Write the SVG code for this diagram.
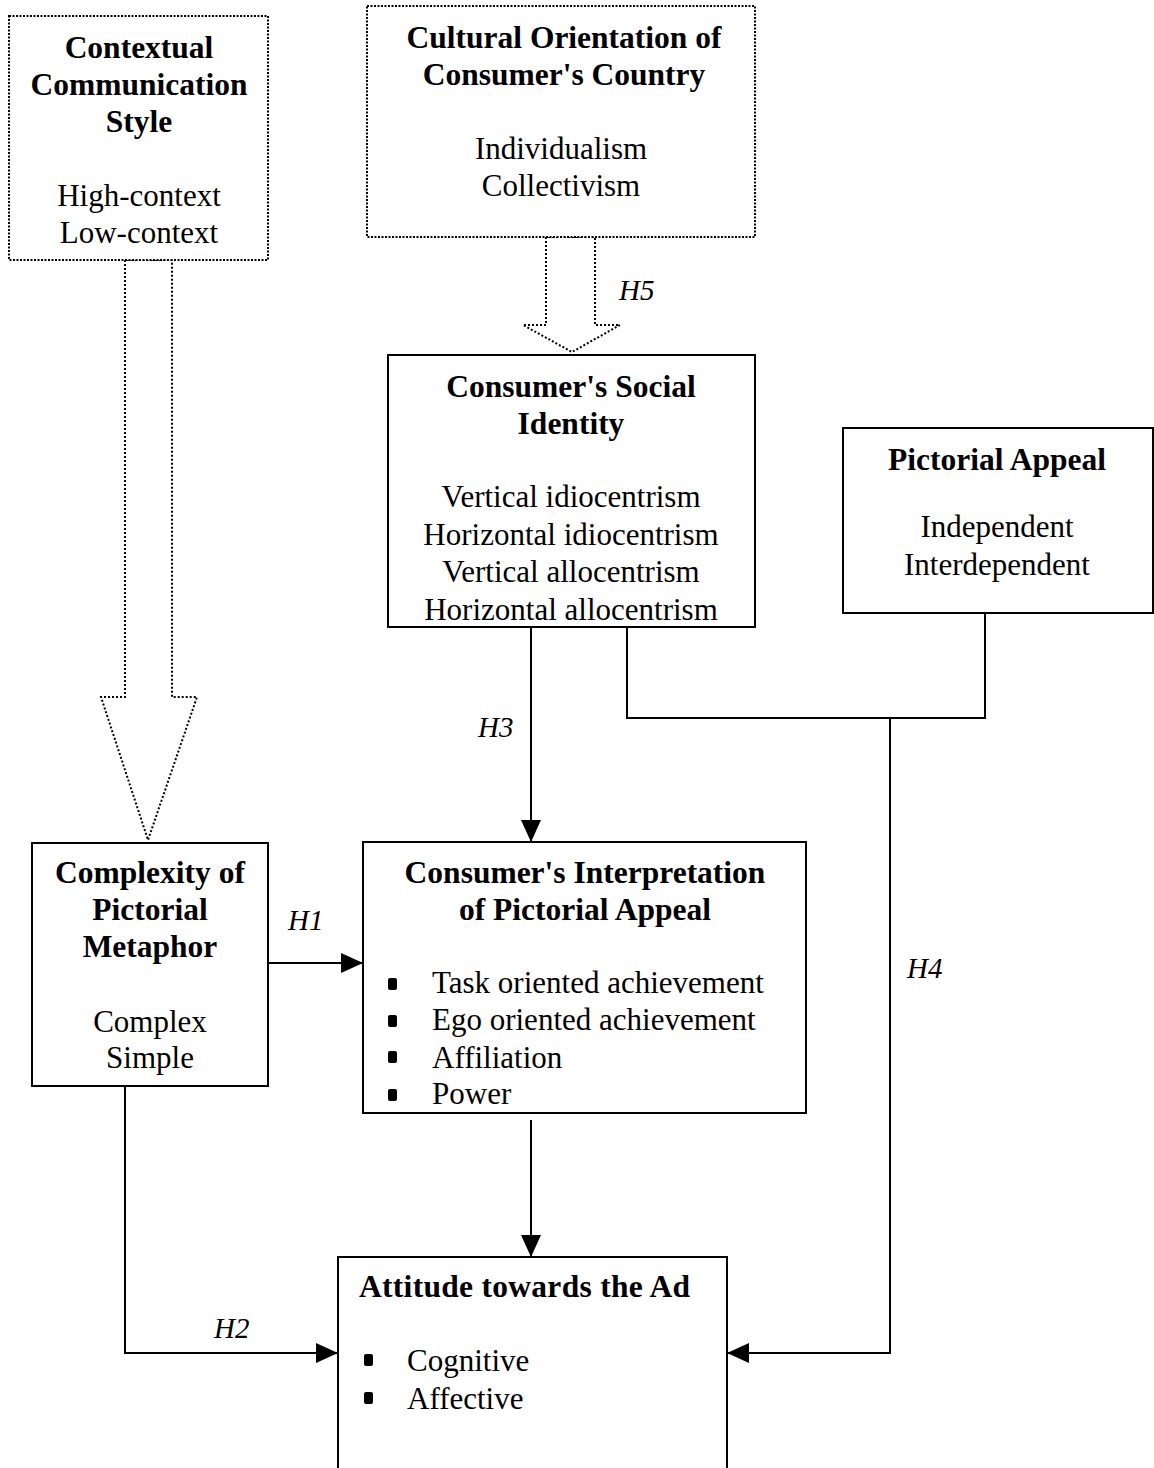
<svg xmlns="http://www.w3.org/2000/svg" width="1154" height="1468" viewBox="0 0 1154 1468">
<defs>
<style>
.box{fill:#fff;stroke:#000;stroke-width:2}
.dbox{fill:#fff;stroke:#000;stroke-width:2;stroke-dasharray:2 1.5}
.hollow{fill:none;stroke:#000;stroke-width:2;stroke-dasharray:2 2}
.ln{fill:none;stroke:#000;stroke-width:2}
.b{font-family:"Liberation Serif","Times New Roman",serif;font-weight:bold;font-size:31.5px;fill:#000}
.r{font-family:"Liberation Serif","Times New Roman",serif;font-size:31px;fill:#000}
.h{font-family:"Liberation Serif","Times New Roman",serif;font-style:italic;font-size:29px;fill:#000}
.c{text-anchor:middle}
.bul{fill:#000}
</style>
<marker id="ah" markerWidth="24" markerHeight="20" refX="22" refY="10" orient="auto" markerUnits="userSpaceOnUse">
<path d="M0,0 L22,10 L0,20 Z" fill="#000"/>
</marker>
<clipPath id="clipSI"><rect x="388" y="355" width="368" height="268"/></clipPath>
<clipPath id="clipIP"><rect x="363" y="842" width="443" height="267"/></clipPath>
</defs>
<rect width="1154" height="1468" fill="#fff"/>

<g id="connectors">
<polygon class="hollow" points="125,260 125,697 101,697 148,840 197,697 172,697 172,260"/>
<polygon class="hollow" points="546,237 546,325 523,325 572,352 620,325 595,325 595,237"/>
<path class="ln" d="M531,628 L531,842" marker-end="url(#ah)"/>
<path class="ln" d="M627,628 L627,718 L985,718 L985,613"/>
<path class="ln" d="M890,718 L890,1353 L727,1353" marker-end="url(#ah)"/>
<path class="ln" d="M268,963 L363,963" marker-end="url(#ah)"/>
<path class="ln" d="M531,1120 L531,1257" marker-end="url(#ah)"/>
<path class="ln" d="M125,1086 L125,1353 L338,1353" marker-end="url(#ah)"/>
<text class="h" x="619" y="300">H5</text>
<text class="h" x="478" y="737">H3</text>
<text class="h" x="288" y="930">H1</text>
<text class="h" x="907" y="978">H4</text>
<text class="h" x="214" y="1338">H2</text>
</g>

<g id="contextual">
<rect class="dbox" x="9" y="16" width="259" height="244"/>
<text class="b c" x="139" y="58">Contextual</text>
<text class="b c" x="139" y="95">Communication</text>
<text class="b c" x="139" y="132">Style</text>
<text class="r c" x="139" y="206">High-context</text>
<text class="r c" x="139" y="243">Low-context</text>
</g>

<g id="cultural">
<rect class="dbox" x="367" y="6" width="388" height="231"/>
<text class="b c" x="564" y="48">Cultural Orientation of</text>
<text class="b c" x="564" y="85">Consumer's Country</text>
<text class="r c" x="561" y="159">Individualism</text>
<text class="r c" x="561" y="196">Collectivism</text>
</g>

<g id="social">
<rect class="box" x="388" y="355" width="367" height="272"/>
<text class="b c" x="571" y="397">Consumer's Social</text>
<text class="b c" x="571" y="434">Identity</text>
<text class="r c" x="571" y="507">Vertical idiocentrism</text>
<text class="r c" x="571" y="545">Horizontal idiocentrism</text>
<text class="r c" x="571" y="582">Vertical allocentrism</text>
<text class="r c" x="571" y="620" clip-path="url(#clipSI)">Horizontal allocentrism</text>
</g>

<g id="pictorial">
<rect class="box" x="843" y="428" width="310" height="185"/>
<text class="b c" x="997" y="470">Pictorial Appeal</text>
<text class="r c" x="997" y="537">Independent</text>
<text class="r c" x="997" y="575">Interdependent</text>
</g>

<g id="complexity">
<rect class="box" x="32" y="843" width="236" height="243"/>
<text class="b c" x="150" y="883">Complexity of</text>
<text class="b c" x="150" y="920">Pictorial</text>
<text class="b c" x="150" y="957">Metaphor</text>
<text class="r c" x="150" y="1032">Complex</text>
<text class="r c" x="150" y="1068">Simple</text>
</g>

<g id="interpretation">
<rect class="box" x="363" y="842" width="443" height="271"/>
<text class="b c" x="585" y="883">Consumer's Interpretation</text>
<text class="b c" x="585" y="920">of Pictorial Appeal</text>
<rect class="bul" x="388" y="978" width="9" height="12" rx="2"/>
<rect class="bul" x="388" y="1015" width="9" height="12" rx="2"/>
<rect class="bul" x="388" y="1051" width="9" height="12" rx="2"/>
<rect class="bul" x="388" y="1089" width="9" height="12" rx="2"/>
<text class="r" x="432" y="993">Task oriented achievement</text>
<text class="r" x="432" y="1030">Ego oriented achievement</text>
<text class="r" x="432" y="1068">Affiliation</text>
<text class="r" x="432" y="1104" clip-path="url(#clipIP)">Power</text>
</g>

<g id="attitude">
<rect class="box" x="338" y="1257" width="389" height="240"/>
<text class="b" x="359" y="1297" textLength="331" lengthAdjust="spacing">Attitude towards the Ad</text>
<rect class="bul" x="364" y="1354" width="9" height="12" rx="2"/>
<rect class="bul" x="364" y="1392" width="9" height="12" rx="2"/>
<text class="r" x="407" y="1371">Cognitive</text>
<text class="r" x="407" y="1409">Affective</text>
</g>
</svg>
